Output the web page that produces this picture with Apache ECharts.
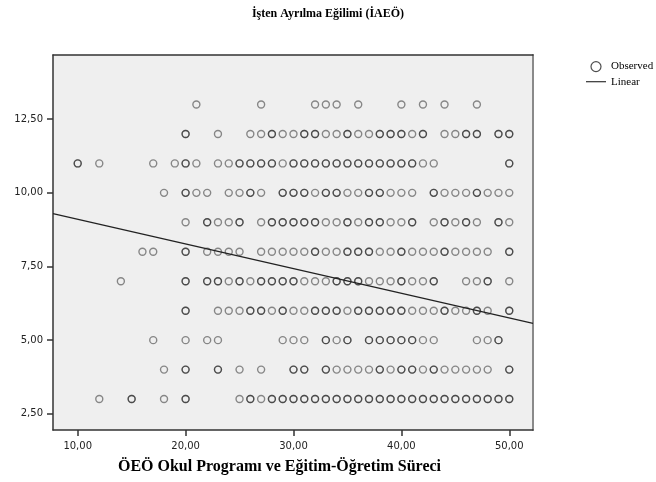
<!DOCTYPE html>
<html>
<head>
<meta charset="utf-8">
<script src="https://cdn.jsdelivr.net/npm/echarts@6/dist/echarts.min.js"></script>
<style>
  html, body { margin: 0; padding: 0; background: #ffffff; }
  #chart { width: 656px; height: 482px; }
</style>
</head>
<body>
<div id="chart"></div>
<script>
// Observed cases: x scores (ÖEÖ) for each İAEÖ level. Repeated x values are
// separate cases at the same point, which overlap and draw darker.
const iaeo13 = [21,27,32,33,34,36,40,42,44,47];
const iaeo12 = [20,20,23,26,27,28,28,29,30,31,31,32,32,33,34,35,35,36,37,38,38,39,39,40,40,41,42,42,44,45,46,46,47,47,49,49,50,50];
const iaeo11 = [10,10,12,17,19,20,20,21,23,24,25,25,26,26,27,27,28,28,29,30,30,31,31,32,32,33,33,34,34,35,35,36,36,37,37,38,38,39,39,40,40,41,41,42,43,50,50];
const iaeo10 = [18,20,20,21,22,24,25,26,26,27,29,29,30,30,31,31,32,33,33,34,34,35,36,37,37,38,38,39,40,41,43,43,44,45,46,47,47,48,49,50];
const iaeo9  = [20,22,22,23,24,25,25,27,28,28,29,29,30,30,31,31,32,32,33,34,35,35,36,37,37,38,38,39,40,41,41,43,44,44,45,46,46,47,49,49,50];
const iaeo8  = [16,17,20,20,22,23,24,25,27,28,29,30,31,32,32,33,34,35,35,36,36,37,37,38,39,40,40,41,42,43,44,44,45,46,47,48,50,50];
const iaeo7  = [14,20,20,22,22,23,23,24,25,25,26,27,27,28,28,29,29,30,30,31,32,33,34,34,35,35,36,36,37,38,39,40,40,41,42,43,43,46,47,48,48,50];
const iaeo6  = [20,20,23,24,25,26,26,27,27,28,29,29,30,31,32,32,33,33,34,34,35,36,36,37,37,38,38,39,39,40,40,41,42,43,44,44,45,46,47,47,48,50,50];
const iaeo5  = [17,20,22,23,29,30,31,33,33,34,35,35,37,37,38,38,39,39,40,40,41,41,42,43,47,48,49,49];
const iaeo4  = [18,20,20,23,23,25,27,30,30,31,31,33,33,34,35,36,37,38,38,39,40,40,41,41,42,43,43,44,45,46,47,48,50,50];
const iaeo3  = [12,15,15,18,20,20,25,26,26,27,28,28,29,29,30,30,31,31,32,32,33,33,34,34,35,35,36,36,37,37,38,38,39,39,40,40,41,41,42,42,43,43,44,44,45,45,46,46,47,47,48,48,49,49,50,50];

const rows = [
  [13, iaeo13], [12, iaeo12], [11, iaeo11], [10, iaeo10], [9, iaeo9], [8, iaeo8],
  [7, iaeo7], [6, iaeo6], [5, iaeo5], [4, iaeo4], [3, iaeo3]
];

// Linear fit: İAEÖ = b0 + b1 * ÖEÖ
const fitIntercept = 9.94;
const fitSlope = -0.0838;

// Axis ranges and tick labels
const xRange = [7.71, 52.2];
const yRange = [1.95, 14.68];
const xTicks = [10, 20, 30, 40, 50];
const yTicks = [2.5, 5, 7.5, 10, 12.5];

const observed = [];
rows.forEach(([y, xs]) => xs.forEach(x => observed.push([x, y])));

const fitLine = xRange.map(x => [x, fitIntercept + fitSlope * x]);

const fmt = v => v.toFixed(2).replace('.', ',');
const sansFont = 'DejaVu Sans';
const serifFont = 'Liberation Serif';

const chart = echarts.init(document.getElementById('chart'), null, { renderer: 'canvas' });
chart.setOption({
  animation: false,
  backgroundColor: '#ffffff',
  title: {
    text: 'İşten Ayrılma Eğilimi (İAEÖ)',
    left: 'center',
    top: 8,
    padding: 0,
    textStyle: { fontFamily: serifFont, fontWeight: 'bold', fontSize: 12, color: '#000' }
  },
  legend: {
    orient: 'vertical',
    left: 581,
    top: 56,
    itemWidth: 20,
    itemHeight: 10,
    itemGap: 4,
    selectedMode: false,
    textStyle: { fontFamily: serifFont, fontSize: 11, color: '#000' },
    data: [
      { name: 'Observed', icon: 'circle',
        itemStyle: { color: 'rgba(0,0,0,0)', borderColor: '#222', borderWidth: 1.2 } },
      { name: 'Linear', icon: 'path://M0 4.4 H20 V5.6 H0 Z',
        itemStyle: { color: '#333', borderWidth: 0 } }
    ]
  },
  grid: {
    left: 53, top: 55, right: 123, bottom: 52,
    show: true,
    backgroundColor: '#efefef',
    borderWidth: 0
  },
  xAxis: [
    {
      type: 'value',
      min: xRange[0], max: xRange[1],
      name: 'ÖEÖ Okul Programı ve Eğitim-Öğretim Süreci',
      nameLocation: 'middle',
      nameGap: 29,
      nameTextStyle: { fontFamily: serifFont, fontWeight: 'bold', fontSize: 16, color: '#000', padding: [0, 27, 0, 0] },
      axisLine: { show: true, onZero: false, lineStyle: { color: '#333', width: 1.5 } },
      axisTick: { show: true, length: 6, customValues: xTicks, lineStyle: { color: '#333', width: 1.5 } },
      axisLabel: { customValues: xTicks, formatter: fmt, margin: 11, fontFamily: sansFont, fontSize: 10, color: '#222' },
      splitLine: { show: false }
    },
    {
      type: 'value', position: 'top',
      min: xRange[0], max: xRange[1],
      axisLine: { show: true, lineStyle: { color: '#333', width: 1.5 } },
      axisTick: { show: false }, axisLabel: { show: false }, splitLine: { show: false }
    }
  ],
  yAxis: [
    {
      type: 'value',
      min: yRange[0], max: yRange[1],
      axisLine: { show: true, onZero: false, lineStyle: { color: '#333', width: 1.5 } },
      axisTick: { show: true, length: 6, customValues: yTicks, lineStyle: { color: '#333', width: 1.5 } },
      axisLabel: { customValues: yTicks, formatter: fmt, margin: 10, fontFamily: sansFont, fontSize: 10, color: '#222' },
      splitLine: { show: false }
    },
    {
      type: 'value', position: 'right',
      min: yRange[0], max: yRange[1],
      axisLine: { show: true, lineStyle: { color: '#8a8a8a', width: 2 } },
      axisTick: { show: false }, axisLabel: { show: false }, splitLine: { show: false }
    }
  ],
  series: [
    {
      name: 'Observed',
      type: 'scatter',
      xAxisIndex: 0, yAxisIndex: 0,
      symbol: 'circle',
      symbolSize: 7,
      itemStyle: { color: 'rgba(0,0,0,0)', borderColor: 'rgba(0,0,0,0.55)', borderWidth: 1.4 },
      emphasis: { disabled: true },
      data: observed
    },
    {
      name: 'Linear',
      type: 'line',
      xAxisIndex: 0, yAxisIndex: 0,
      color: '#222',
      symbol: 'none',
      showSymbol: false,
      lineStyle: { color: '#222', width: 1.3 },
      emphasis: { disabled: true },
      data: fitLine
    }
  ]
});
</script>
</body>
</html>
